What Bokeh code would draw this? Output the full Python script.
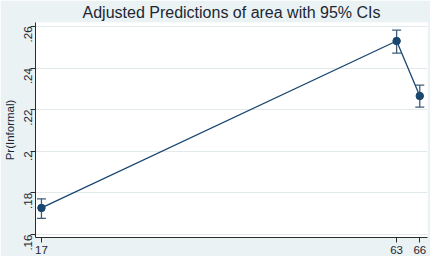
import numpy as np
from bokeh.plotting import figure
from bokeh.models import ColumnDataSource, Whisker, FixedTicker
from bokeh.embed import file_html
from bokeh.resources import INLINE

area = [17, 63, 66]
pred = [0.1728, 0.2530, 0.2266]
ci_low = [0.1678, 0.2472, 0.2212]
ci_high = [0.1772, 0.2582, 0.2318]
y_ticks = [0.16, 0.18, 0.20, 0.22, 0.24, 0.26]
y_tick_labels = [".16", ".18", ".2", ".22", ".24", ".26"]
x_ticks = [17, 63, 66]

src = ColumnDataSource(dict(x=area, y=pred, lo=ci_low, hi=ci_high))

p = figure(width=430, height=256, output_backend="svg", toolbar_location=None,
           x_range=(16.23, 67.0), y_range=(0.1586, 0.2619),
           title="Adjusted Predictions of area with 95% CIs",
           min_border_left=33, min_border_right=3, min_border_top=3, min_border_bottom=2)

bg = "#eaf2f3"
p.border_fill_color = bg
p.background_fill_color = "white"
p.outline_line_color = None

p.title.align = "center"
p.title.offset = -15
p.title.text_font = "Liberation Sans"
p.title.text_font_size = "16px"
p.title.text_font_style = "normal"
p.title.text_color = "#1c2733"
p.title.standoff = 3

p.xgrid.grid_line_color = None
p.ygrid.grid_line_color = "#e2eaec"
p.ygrid.grid_line_width = 1

for ax in (p.xaxis[0], p.yaxis[0]):
    ax.axis_line_color = "#2b2b2b"
    ax.major_tick_line_color = "#2b2b2b"
    ax.minor_tick_line_color = None
    ax.major_tick_out = 5
    ax.major_tick_in = 0
    ax.major_label_text_font = "Liberation Sans"
    ax.major_label_text_font_size = "11.5px"
    ax.major_label_text_color = "#1c2733"
    ax.major_label_standoff = 3

p.yaxis.major_label_standoff = 2
p.xaxis.ticker = FixedTicker(ticks=x_ticks)
p.yaxis.ticker = FixedTicker(ticks=y_ticks)
p.yaxis.major_label_overrides = {t: l for t, l in zip(y_ticks, y_tick_labels)}
p.yaxis.major_label_orientation = np.pi / 2
p.yaxis.axis_label = "Pr(Informal)"
p.yaxis.axis_label_text_font = "Liberation Sans"
p.yaxis.axis_label_text_font_size = "11.5px"
p.yaxis.axis_label_text_font_style = "normal"
p.yaxis.axis_label_text_color = "#1c2733"
p.yaxis.axis_label_standoff = 2

p.line("x", "y", source=src, line_color="#1a476f", line_width=1.3)
w = Whisker(source=src, base="x", upper="hi", lower="lo",
            line_color="#3d5d78", line_width=1.3)
w.upper_head.size = 9
w.lower_head.size = 9
w.upper_head.line_color = "#3d5d78"
w.lower_head.line_color = "#3d5d78"
w.upper_head.line_width = 1.3
w.lower_head.line_width = 1.3
p.add_layout(w)
p.scatter("x", "y", source=src, size=7.5, fill_color="#1a476f", line_color="#1a476f")

open("out.html", "w").write(file_html(p, INLINE))
